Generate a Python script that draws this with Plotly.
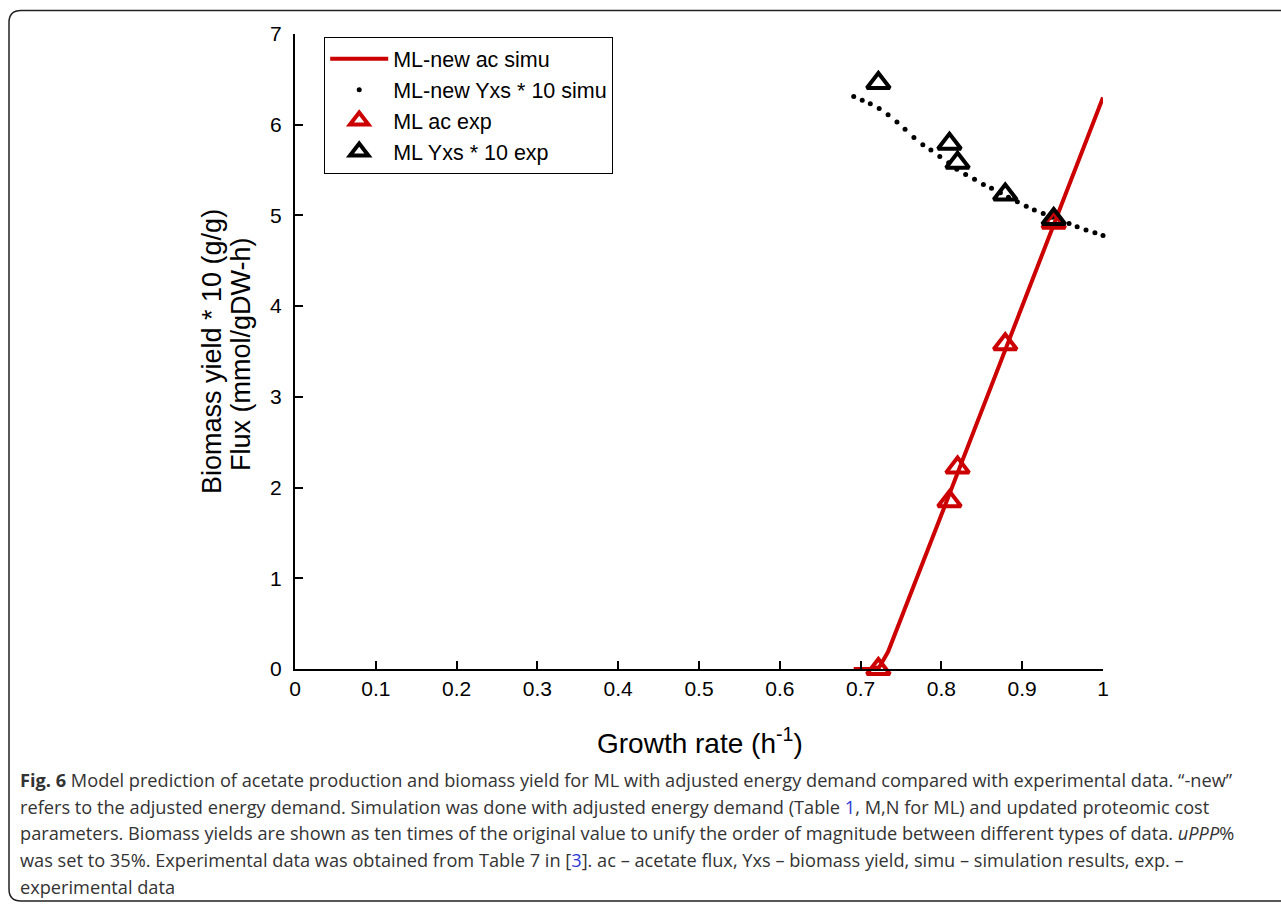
import plotly.graph_objects as go

# Simulated biomass yield (x10) along the growth-rate grid
mu_sim_yxs = [0.6915, 0.702, 0.712, 0.723, 0.734, 0.745, 0.755, 0.766, 0.777, 0.787,
              0.798, 0.809, 0.819, 0.830, 0.841, 0.852, 0.862, 0.873, 0.883, 0.894,
              0.905, 0.915, 0.926, 0.937, 0.947, 0.958, 0.968, 0.979, 0.990, 1.000]
yxs_sim = [6.31, 6.27, 6.23, 6.18, 6.11, 6.03, 5.95, 5.86, 5.78, 5.72,
           5.65, 5.58, 5.51, 5.45, 5.40, 5.34, 5.30, 5.25, 5.20, 5.15,
           5.10, 5.06, 5.02, 4.98, 4.94, 4.91, 4.875, 4.84, 4.81, 4.78]

# Simulated acetate flux
mu_sim_ac = [0.6915, 0.712, 0.723, 0.734, 0.80, 0.90, 1.00]
ac_sim = [0.0, 0.0, 0.02, 0.19, 1.70, 4.00, 6.30]

# Experimental data
mu_exp = [0.722, 0.81, 0.82, 0.879, 0.939]
ac_exp = [0.0, 1.85, 2.22, 3.58, 4.92]
yxs_exp = [6.46, 5.79, 5.58, 5.23, 4.96]

x_ticks = [0, 0.1, 0.2, 0.3, 0.4, 0.5, 0.6, 0.7, 0.8, 0.9, 1.0]
x_labels = ["0", "0.1", "0.2", "0.3", "0.4", "0.5", "0.6", "0.7", "0.8", "0.9", "1"]
y_ticks = [0, 1, 2, 3, 4, 5, 6, 7]

caption_lines = [
    "<b>Fig. 6</b> Model prediction of acetate production and biomass yield for ML with adjusted energy demand compared with experimental data. \u201c-new\u201d",
    "refers to the adjusted energy demand. Simulation was done with adjusted energy demand (Table <span style='color:#2b3bd6'>1</span>, M,N for ML) and updated proteomic cost",
    "parameters. Biomass yields are shown as ten times of the original value to unify the order of magnitude between different types of data. <i>uPPP</i>%",
    "was set to 35%. Experimental data was obtained from Table 7 in [<span style='color:#2b3bd6'>3</span>]. ac \u2013 acetate flux, Yxs \u2013 biomass yield, simu \u2013 simulation results, exp. \u2013",
    "experimental data",
]

W, H = 1281, 904
L, R, T, B = 295, 1103, 34, 669

def px_x(p):
    return (p - L) / (R - L)

def px_y(p):
    return (B - p) / (B - T)

RED = "#cc0000"
FONT = "Liberation Sans, Arial, sans-serif"

fig = go.Figure()
fig.add_trace(go.Scatter(x=mu_sim_ac, y=ac_sim, mode="lines", name="ML-new ac simu",
                         line=dict(color=RED, width=4)))
fig.add_trace(go.Scatter(x=mu_sim_yxs, y=yxs_sim, mode="markers", name="ML-new Yxs * 10 simu",
                         marker=dict(color="black", size=5), cliponaxis=False))
fig.add_trace(go.Scatter(x=mu_exp, y=ac_exp, mode="markers", name="ML ac exp",
                         marker=dict(symbol="triangle-up-open", color=RED, size=20,
                                     line=dict(color=RED, width=4)), cliponaxis=False))
fig.add_trace(go.Scatter(x=mu_exp, y=yxs_exp, mode="markers", name="ML Yxs * 10 exp",
                         marker=dict(symbol="triangle-up-open", color="black", size=20,
                                     line=dict(color="black", width=4)), cliponaxis=False))

axis_common = dict(showgrid=False, zeroline=False, showline=True, linecolor="black",
                   linewidth=2, ticks="inside", ticklen=8, tickwidth=1.5, tickcolor="black",
                   tickfont=dict(family=FONT, size=21, color="black"))

fig.update_xaxes(range=[0, 1], tickvals=x_ticks, ticktext=x_labels, **axis_common)
fig.update_yaxes(range=[0, 7], tickvals=y_ticks, ticklabelstandoff=7, **axis_common)

annotations = [
    dict(text="Growth rate (h<sup>-1</sup>)", x=px_x(700), y=px_y(741), xref="paper", yref="paper",
         xanchor="center", yanchor="middle", showarrow=False,
         font=dict(family=FONT, size=28, color="black")),
    dict(text="Biomass yield * 10 (g/g)", x=px_x(212), y=px_y(352), xref="paper", yref="paper",
         xanchor="center", yanchor="middle", textangle=-90, showarrow=False,
         font=dict(family=FONT, size=27, color="black")),
    dict(text="Flux (mmol/gDW-h)", x=px_x(241), y=px_y(354), xref="paper", yref="paper",
         xanchor="center", yanchor="middle", textangle=-90, showarrow=False,
         font=dict(family=FONT, size=27, color="black")),
]
cap_y = [780, 806.7, 833.3, 860, 886.7]
for line, yy in zip(caption_lines, cap_y):
    annotations.append(dict(text=line, x=px_x(18), y=px_y(yy), xref="paper", yref="paper",
                            xanchor="left", yanchor="middle", showarrow=False, align="left",
                            font=dict(family="Open Sans, sans-serif", size=18.2, color="#333333")))

# Rounded frame around the figure panel
x0, y0, x1, y1, r = 9, 10.5, 1300, 901, 12
frame = (f"M {px_x(x1)},{px_y(y0)} L {px_x(x0 + r)},{px_y(y0)} "
         f"Q {px_x(x0)},{px_y(y0)} {px_x(x0)},{px_y(y0 + r)} "
         f"L {px_x(x0)},{px_y(y1 - r)} Q {px_x(x0)},{px_y(y1)} {px_x(x0 + r)},{px_y(y1)} "
         f"L {px_x(x1)},{px_y(y1)}")

fig.update_layout(
    width=W, height=H,
    margin=dict(l=L, r=W - R, t=T, b=H - B, autoexpand=False),
    paper_bgcolor="white", plot_bgcolor="white",
    showlegend=True,
    legend=dict(x=px_x(324), y=px_y(37), xanchor="left", yanchor="top",
                bordercolor="black", borderwidth=1.2, bgcolor="white",
                font=dict(family=FONT, size=21.5, color="black"), itemwidth=58,
                tracegroupgap=0),
    annotations=annotations,
    shapes=[dict(type="path", path=frame, xref="paper", yref="paper",
                 line=dict(color="#222222", width=1.5), layer="above")],
)

fig.write_html("out.html")
